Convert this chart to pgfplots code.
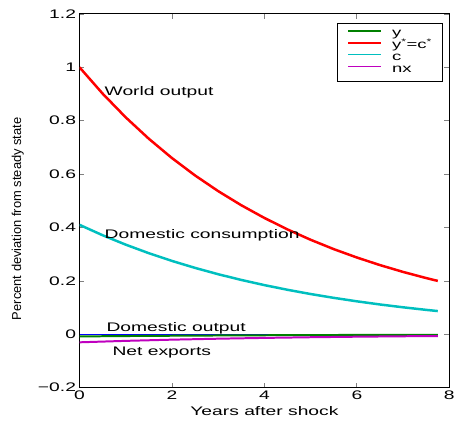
\documentclass[border=0pt]{standalone}
\usepackage{fontspec}
\setmainfont{Liberation Sans}
\newfontfamily\wide[FakeStretch=1.55]{Liberation Sans}
\usepackage{pgfplots}
\pgfplotsset{compat=1.18}

\definecolor{mred}{rgb}{1,0,0}
\definecolor{mcyan}{rgb}{0,0.75,0.75}
\definecolor{mgreen}{rgb}{0,0.5,0}
\definecolor{mmag}{rgb}{0.75,0,0.75}
\definecolor{mblue}{rgb}{0,0,1}

\begin{document}
\begin{tikzpicture}
\begin{axis}[
  scale only axis, width=372pt, height=376pt,
  xmin=0, xmax=8, ymin=-0.2, ymax=1.2,
  xtick={0,2,4,6,8}, xticklabels={0,2,4,6,8},
  ytick={-0.2,0,0.2,0.4,0.6,0.8,1,1.2},
  yticklabels={−0.2,0,0.2,0.4,0.6,0.8,1,1.2},
  tick align=inside, major tick length=5pt,
  tick style={gray, line width=0.8pt},
  axis line style={black, line width=1pt},
  ticklabel style={font=\wide\fontsize{12.5}{13}\selectfont},
  xlabel={Years after shock},
  xlabel style={font=\wide\fontsize{12.5}{13}\selectfont, at={(axis description cs:0.5,0)}, anchor=center, yshift=-23pt},
  ylabel={Percent deviation from steady state},
  ylabel style={font=\fontsize{13}{15}\selectfont, at={(axis description cs:0,0.452)}, anchor=center, rotate=0, yshift=62pt},
  legend style={at={(axis description cs:0.981,0.976)}, anchor=north east,
    draw=black, line width=0.8pt, fill=white, font=\wide\fontsize{12}{12}\selectfont,
    inner xsep=10pt, inner ysep=5pt, row sep=0pt, column sep=10pt,
    nodes={inner xsep=0pt, inner ysep=0pt, text depth=3.5pt, text height=8.5pt}},
  legend cell align=left,
  legend image code/.code={
    \draw[#1, line width=1.8pt] (0pt,3.5pt) -- (33pt,3.5pt);},
]
% zero line under the domestic output path
\addplot[mblue, line width=0.8pt, forget plot] coordinates {(0,0) (7.75,0)};

\addplot[mgreen, line width=2pt] coordinates {
  (0,-0.0080) (1,-0.0065) (2,-0.0054) (3,-0.0044) (4,-0.0036)
  (5,-0.0029) (6,-0.0024) (7,-0.0020) (7.75,-0.0017)};
\addlegendentry{y}

\addplot[mred, line width=2.5pt] coordinates {
  (0,1.0000) (0.5,0.9014) (1,0.8124) (1.5,0.7323) (2,0.6600) (2.5,0.5949)
  (3,0.5362) (3.5,0.4833) (4,0.4357) (4.5,0.3927) (5,0.3540) (5.5,0.3190)
  (6,0.2876) (6.5,0.2592) (7,0.2336) (7.5,0.2106) (7.75,0.2000)};
\addlegendentry{y\textsuperscript{*}=c\textsuperscript{*}}

\addplot[mcyan, line width=2.5pt] coordinates {
  (0,0.4100) (0.5,0.3710) (1,0.3357) (1.5,0.3037) (2,0.2748) (2.5,0.2487)
  (3,0.2250) (3.5,0.2036) (4,0.1842) (4.5,0.1667) (5,0.1508) (5.5,0.1365)
  (6,0.1235) (6.5,0.1117) (7,0.1011) (7.5,0.0915) (7.75,0.0870)};
\addlegendentry{c}

\addplot[mmag, line width=2pt] coordinates {
  (0,-0.0300) (1,-0.0246) (2,-0.0201) (3,-0.0165) (4,-0.0135)
  (5,-0.0110) (6,-0.0090) (7,-0.0074) (7.75,-0.0064)};
\addlegendentry{nx}

\node[font=\wide\fontsize{12.5}{13}\selectfont, anchor=west, inner sep=0pt] at (axis cs:0.54,0.906) {World output};
\node[font=\wide\fontsize{12.5}{13}\selectfont, anchor=west, inner sep=0pt] at (axis cs:0.54,0.370) {Domestic consumption};
\node[font=\wide\fontsize{12.5}{13}\selectfont, anchor=west, inner sep=0pt] at (axis cs:0.58,0.022) {Domestic output};
\node[font=\wide\fontsize{12.5}{13}\selectfont, anchor=west, inner sep=0pt] at (axis cs:0.71,-0.070) {Net exports};
\end{axis}
\path ([xshift=-80pt,yshift=-33pt]current axis.south west) rectangle ([xshift=6pt,yshift=14pt]current axis.north east);
\end{tikzpicture}
\end{document}
